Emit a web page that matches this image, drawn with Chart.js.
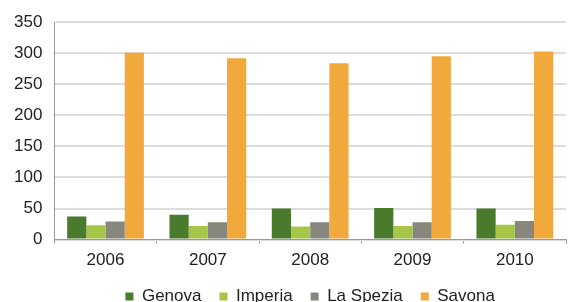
<!DOCTYPE html>
<html>
<head>
<meta charset="utf-8">
<script src="https://cdn.jsdelivr.net/npm/chart.js@4"></script>
<style>
  html, body { margin: 0; padding: 0; background: #fff; }
  #wrap { width: 569px; height: 302px; }
</style>
</head>
<body>
<div id="wrap"><canvas id="chart" width="569" height="302"></canvas></div>
<script>
var years = ["2006", "2007", "2008", "2009", "2010"];
var genova = [37, 40, 50, 51, 50];
var imperia = [23, 22, 21, 22, 24];
var laSpezia = [29, 28, 28, 28, 30];
var savona = [301, 292, 284, 295, 303];
var yTicks = [0, 50, 100, 150, 200, 250, 300, 350];

Chart.defaults.font.family = "'Liberation Sans', Arial, sans-serif";
Chart.defaults.color = "#333";

// legend padding is also the gap between items, so pull the drawn legend up a bit
var legendNudge = {
  id: "legendNudge",
  afterInit: function (chart) {
    var draw = chart.legend.draw;
    chart.legend.draw = function () {
      chart.ctx.save();
      chart.ctx.translate(0, -8);
      draw.apply(this, arguments);
      chart.ctx.restore();
    };
  },
};

var chart = new Chart(document.getElementById("chart"), {
  type: "bar",
  data: {
    labels: years,
    datasets: [
      { label: "Genova", data: genova, backgroundColor: "#4a7a2b" },
      { label: "Imperia", data: imperia, backgroundColor: "#a5c647" },
      { label: "La Spezia", data: laSpezia, backgroundColor: "#87877e" },
      { label: "Savona", data: savona, backgroundColor: "#f2a93b" },
    ],
  },
  plugins: [legendNudge],
  options: {
    responsive: false,
    animation: false,
    layout: { padding: { top: 15, right: 3, left: 2, bottom: -21 } },
    datasets: {
      bar: { categoryPercentage: 0.75, barPercentage: 1 },
    },
    plugins: {
      legend: {
        position: "bottom",
        fullSize: false,
        labels: {
          boxWidth: 8,
          boxHeight: 8,
          padding: 18,
          font: { size: 17 },
          color: "#222",
        },
      },
      tooltip: { enabled: false },
    },
    scales: {
      x: {
        grid: {
          display: true,
          drawOnChartArea: false,
          tickLength: 4,
          color: "#999",
          offset: true,
        },
        border: { color: "#999" },
        ticks: { font: { size: 17 }, color: "#222", padding: 7 },
      },
      y: {
        min: 0,
        max: 350,
        afterBuildTicks: function (axis) {
          axis.ticks = yTicks.map(function (v) { return { value: v }; });
        },
        grid: { color: "#dcdcdc", lineWidth: 2, drawTicks: false },
        border: { color: "#999" },
        ticks: { font: { size: 17 }, color: "#222", padding: 12 },
      },
    },
  },
});
</script>
</body>
</html>
